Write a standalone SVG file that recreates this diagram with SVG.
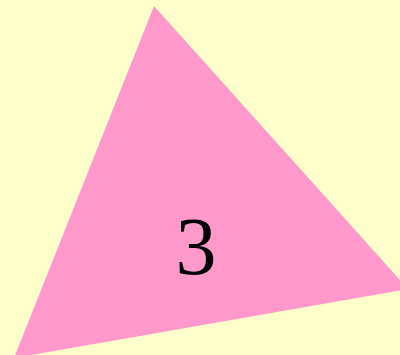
<svg xmlns="http://www.w3.org/2000/svg" width="400" height="355" viewBox="0 0 400 355">
<rect x="0" y="0" width="400" height="355" fill="#FFFFCC"/>
<g id="triangle">
<polygon points="154,6 408,289 14,358" fill="#FF99CC"/>
<text x="196" y="274" font-family="'Liberation Serif', serif" font-size="82" text-anchor="middle" fill="#000">3</text>
</g>
</svg>
